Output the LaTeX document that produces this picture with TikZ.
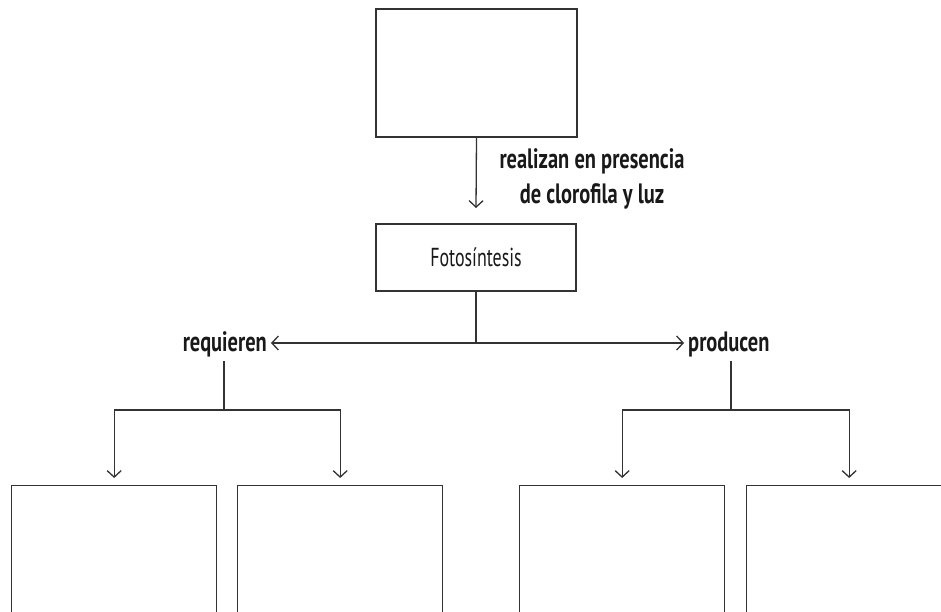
\documentclass[tikz,border=0pt]{standalone}
\usepackage{fontspec}
\usetikzlibrary{arrows.meta}
\newfontfamily\lblfont[FakeStretch=0.73]{PT Sans}
\newfontfamily\boxfont[FakeStretch=0.69]{PT Sans}
\definecolor{ink}{HTML}{333333}
\tikzset{
  box/.style={draw=ink, line width=1.3pt, rectangle, inner sep=0pt},
  conn/.style={draw=ink, line width=1.3pt},
  barb/.tip={Straight Barb[length=6.5pt,width=14pt,line width=1.3pt]},
  tip/.style={-barb},
  lbl/.style={font=\lblfont\bfseries\fontsize{28}{35}\selectfont, text=black!90, inner sep=0pt},
}
\begin{document}
\begin{tikzpicture}[x=1pt,y=-1pt]
\useasboundingbox (0,0) rectangle (941,611);
\clip (0,0) rectangle (941,611);
% boxes
\node[box, minimum width=201pt, minimum height=128pt] (top) at (476.5,73) {};
\node[box, minimum width=200pt, minimum height=67pt, font=\boxfont\fontsize{26}{28}\selectfont, text=black!90] (foto) at (476,257.5) {Fotosíntesis};
\node[box, minimum width=205pt, minimum height=200pt, anchor=north west] (b1) at (11,485) {};
\node[box, minimum width=205pt, minimum height=200pt, anchor=north west] (b2) at (237,485) {};
\node[box, minimum width=205pt, minimum height=200pt, anchor=north west] (b3) at (519,485) {};
\node[box, minimum width=205pt, minimum height=200pt, anchor=north west] (b4) at (746,485) {};
% labels
\node[lbl, align=center, anchor=base] (real) at (592,203) {realizan en presencia\\de clorofila y luz};
\node[lbl, anchor=base east] (req) at (267,351) {requieren};
\node[lbl, anchor=base west] (prod) at (688,351) {producen};
% coordinates
\coordinate (topend) at (476,208);
\coordinate (hub) at (476,343);
\coordinate (la) at (271,343);
\coordinate (ra) at (684,343);
\coordinate (lv) at (224,361);
\coordinate (lh) at (224,410);
\coordinate (rv) at (731,361);
\coordinate (rh) at (731,410);
% connectors
\draw[conn, tip] (top.south) -- (topend);
\draw[conn] (foto.south) -- (hub);
\draw[conn, barb-barb] (la) -- (ra);
\draw[conn] (lv) -- (lh);
\draw[conn, tip] (lh) -| ([yshift=7pt]b1.north);
\draw[conn, tip] (lh) -| ([yshift=7pt]b2.north);
\draw[conn] (rv) -- (rh);
\draw[conn, tip] (rh) -| ([yshift=7pt]b3.north);
\draw[conn, tip] (rh) -| ([yshift=7pt]b4.north);
\end{tikzpicture}
\end{document}
